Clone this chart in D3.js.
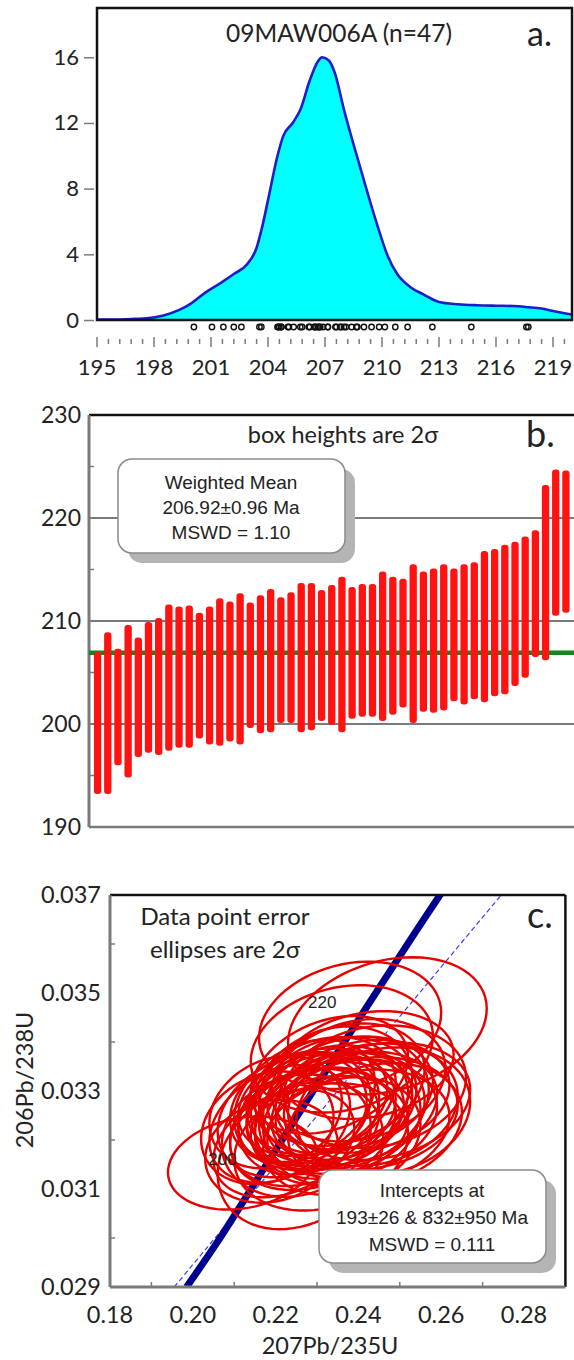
<!DOCTYPE html>
<html><head><meta charset="utf-8">
<script src="https://cdn.jsdelivr.net/npm/d3@7"></script>
<style>body{margin:0;background:#fff} svg{display:block}</style>
</head><body>
<svg id="chart" width="574" height="1360"></svg>
<script>
// ---------- Panel a: probability density ----------
const pdfTitle = "09MAW006A (n=47)";
const pdfAges = [195,196,197,197.6,198.5,199.3,199.9,200.7,201.5,202.2,202.9,203.4,203.7,204.0,204.5,204.8,205.3,205.7,206.2,206.6,206.85,207.2,207.5,208.0,208.5,209.0,209.35,209.8,210.3,210.8,211.5,212.2,213.0,214.0,215.0,216.0,216.9,217.7,218.4,219.2,220.0];
const pdfValues = [0.02,0.03,0.07,0.1,0.28,0.6,0.97,1.67,2.25,2.8,3.4,4.4,5.7,7.3,10.0,11.2,12.0,12.8,14.6,15.7,16.0,15.8,15.1,12.8,10.7,8.7,7.3,5.6,3.9,2.8,2.0,1.55,1.1,0.96,0.9,0.87,0.85,0.78,0.7,0.5,0.33];
const yTicksA = [0,4,8,12,16];
const xTicksA = [195,198,201,204,207,210,213,216,219];

// ---------- Panel b: weighted mean (2 sigma boxes) ----------
const boxLow  = [193.2,193.2,196.0,194.8,196.8,197.2,197.0,197.4,197.7,197.7,198.6,198.0,197.9,198.3,198.0,199.6,199.1,199.2,200.1,200.1,199.2,199.4,200.3,199.9,199.2,200.5,200.7,200.7,200.3,200.9,201.6,200.1,201.2,201.1,201.3,202.2,201.9,202.4,202.1,202.7,202.9,203.7,204.5,206.5,206.2,210.5,210.8];
const boxHigh = [207.0,208.9,207.3,209.6,208.4,209.9,210.3,211.6,211.4,211.5,210.8,211.4,212.2,211.9,212.7,211.8,212.5,213.1,212.3,212.8,213.7,213.7,213.0,213.5,214.3,213.3,213.6,213.6,214.8,214.3,214.1,215.5,214.8,215.1,215.5,215.1,215.5,215.7,216.8,217.0,217.4,217.7,218.2,218.8,223.2,224.7,224.6];
const weightedMean = 206.92;
const yTicksB = [190,200,210,220,230];
const gridB = [200,210,220];
const meanLines = ["Weighted Mean","206.92±0.96 Ma","MSWD = 1.10"];

// ---------- Panel c: concordia ----------
const ellX  = [0.212,0.226,0.219,0.231,0.222,0.236,0.225,0.229,0.240,0.218,0.233,0.227,0.244,0.221,0.235,0.230,0.238,0.224,0.232,0.242,0.228,0.236,0.220,0.234,0.246,0.231,0.239,0.226,0.243,0.233,0.229,0.237,0.245,0.227,0.235,0.241,0.231,0.238,0.234,0.244,0.236,0.240,0.233,0.242,0.236,0.247,0.238];
const ellY  = [0.03153,0.03168,0.03177,0.03186,0.03193,0.03208,0.03209,0.03223,0.03224,0.03225,0.03226,0.03226,0.03232,0.03233,0.03237,0.03242,0.03244,0.03249,0.0325,0.03254,0.03254,0.03256,0.03257,0.03258,0.03259,0.03261,0.03265,0.03265,0.03272,0.03273,0.03277,0.03276,0.03279,0.0328,0.03285,0.03289,0.0329,0.03296,0.03302,0.03309,0.03313,0.03322,0.03333,0.03353,0.03386,0.03433,0.03434];
const ellSX = [0.018,0.020,0.016,0.021,0.017,0.019,0.018,0.020,0.022,0.016,0.019,0.018,0.021,0.017,0.020,0.019,0.021,0.018,0.019,0.022,0.017,0.020,0.016,0.019,0.021,0.018,0.020,0.017,0.021,0.019,0.018,0.020,0.022,0.017,0.019,0.021,0.018,0.020,0.019,0.022,0.020,0.021,0.019,0.021,0.022,0.024,0.022];
const ellSY = [0.00095,0.0015,0.00105,0.0013,0.0011,0.0012,0.00125,0.00125,0.0012,0.00115,0.00105,0.0012,0.00125,0.0012,0.0013,0.00105,0.0012,0.00125,0.0011,0.00115,0.00125,0.00125,0.00115,0.0012,0.0013,0.00115,0.00115,0.00115,0.00125,0.0012,0.0011,0.00135,0.0012,0.00125,0.00125,0.00115,0.0012,0.00115,0.0013,0.00125,0.00125,0.00125,0.0012,0.0011,0.0013,0.0014,0.0013];
const ellRho = [0.2,0.25,0.15,0.2,0.3,0.2,0.15,0.25,0.2,0.2,0.15,0.25,0.2,0.3,0.2,0.15,0.2,0.25,0.2,0.15,0.25,0.2,0.2,0.3,0.15,0.2,0.25,0.2,0.15,0.2,0.25,0.2,0.2,0.3,0.15,0.2,0.25,0.2,0.2,0.15,0.25,0.2,0.3,0.2,0.2,0.25,0.2];
const concAges = [184.5,190,200,210,220,230,235];
const concX = [0.1985,0.2058,0.2178,0.2298,0.2419,0.2542,0.2605];
const concY = [0.0290,0.0299,0.0315,0.0331,0.0347,0.0363,0.0371];
const concLabels = [200,220];
const discX = [0.1955,0.2745];
const discY = [0.029,0.037];
const xTicksC = [0.18,0.20,0.22,0.24,0.26,0.28];
const yTicksC = [0.029,0.031,0.033,0.035,0.037];
const interceptLines = ["Intercepts at","193±26 & 832±950 Ma","MSWD = 0.111"];

// ---------- drawing ----------
const CAL = "Lato, 'Open Sans', sans-serif";
const ARI = "'Liberation Sans', Arial, sans-serif";
const svg = d3.select('#chart');
const GRAY = '#7a7a7a';

// ===== Panel a =====
const xA = d3.scaleLinear().domain([195, 220]).range([97, 572]);
const yA = d3.scaleLinear().domain([0, 19]).range([320, 8]);
const gA = svg.append('g');
const pdf = pdfAges.map((a, i) => ({a, v: pdfValues[i]}));
gA.append('path').datum(pdf)
  .attr('d', d3.area().x(d => xA(d.a)).y0(yA(0)).y1(d => yA(d.v)).curve(d3.curveMonotoneX))
  .attr('fill', '#00ffff');
gA.append('path').datum(pdf)
  .attr('d', d3.line().x(d => xA(d.a)).y(d => yA(d.v)).curve(d3.curveMonotoneX))
  .attr('fill', 'none').attr('stroke', '#1c1cc8').attr('stroke-width', 2.6);
gA.append('rect').attr('x', xA(195)).attr('y', yA(19)).attr('width', xA(220) - xA(195)).attr('height', yA(0) - yA(19))
  .attr('fill', 'none').attr('stroke', '#111').attr('stroke-width', 2.5);
gA.append('g').attr('transform', 'translate(94,0)')
  .call(d3.axisLeft(yA).tickValues(yTicksA).tickSize(10).tickPadding(5))
  .call(g => g.select('.domain').remove())
  .call(g => g.selectAll('line').attr('stroke', GRAY).attr('stroke-width', 1.5))
  .call(g => g.selectAll('text').attr('font-family', CAL).attr('font-size', 22).attr('fill', '#222'));
// data points
const ages = boxLow.map((l, i) => (l + boxHigh[i]) / 2);
gA.append('g').selectAll('circle').data(ages).join('circle')
  .attr('cx', d => xA(d)).attr('cy', 327).attr('r', 2.7)
  .attr('fill', 'none').attr('stroke', '#111').attr('stroke-width', 1.4);
// x ticks
const minorA = d3.range(195, 220.01, 0.6).filter(v => !xTicksA.some(t => Math.abs(t - v) < 0.01));
gA.append('g').selectAll('line.mj').data(xTicksA).join('line')
  .attr('x1', d => xA(d)).attr('x2', d => xA(d)).attr('y1', 337).attr('y2', 347)
  .attr('stroke', GRAY).attr('stroke-width', 1.5);
gA.append('g').selectAll('line.mn').data(minorA).join('line')
  .attr('x1', d => xA(d)).attr('x2', d => xA(d)).attr('y1', 339).attr('y2', 344)
  .attr('stroke', GRAY).attr('stroke-width', 1.5);
gA.append('g').selectAll('text').data(xTicksA).join('text')
  .attr('x', d => xA(d)).attr('y', 375).attr('text-anchor', 'middle')
  .attr('font-family', CAL).attr('font-size', 22).attr('fill', '#222').text(d => d);
gA.append('text').attr('x', 339).attr('y', 42).attr('text-anchor', 'middle')
  .attr('font-family', CAL).attr('font-size', 24.5).attr('fill', '#222').text(pdfTitle);
gA.append('text').attr('x', 527).attr('y', 46)
  .attr('font-family', CAL).attr('font-size', 34).attr('fill', '#222').text('a.');

// ===== Panel b =====
const xB = d3.scaleBand().domain(d3.range(boxLow.length)).range([92.5, 571]).paddingInner(0.28).paddingOuter(0.14);
const yB = d3.scaleLinear().domain([190, 230]).range([827, 415]);
const gB = svg.append('g');
gB.append('g').selectAll('line').data(gridB).join('line')
  .attr('x1', 89).attr('x2', 574).attr('y1', d => yB(d)).attr('y2', d => yB(d))
  .attr('stroke', GRAY).attr('stroke-width', 2);
gB.append('line').attr('x1', 89).attr('x2', 574).attr('y1', yB(230)).attr('y2', yB(230)).attr('stroke', '#111').attr('stroke-width', 2.5);
gB.append('line').attr('x1', 89).attr('x2', 574).attr('y1', yB(190)).attr('y2', yB(190)).attr('stroke', GRAY).attr('stroke-width', 2.5);
gB.append('line').attr('x1', 89).attr('x2', 89).attr('y1', yB(230)).attr('y2', yB(190)).attr('stroke', GRAY).attr('stroke-width', 3);
gB.append('g').selectAll('line').data([195,205,215,225]).join('line')
  .attr('x1', 89).attr('x2', 94).attr('y1', d => yB(d)).attr('y2', d => yB(d)).attr('stroke', GRAY).attr('stroke-width', 1.5);
gB.append('g').selectAll('text').data(yTicksB).join('text')
  .attr('x', 81).attr('y', d => yB(d)).attr('dy', '0.35em').attr('text-anchor', 'end')
  .attr('font-family', CAL).attr('font-size', 23).attr('fill', '#222').text(d => d);
// mean line
gB.append('line').attr('x1', 89).attr('x2', 574).attr('y1', yB(weightedMean)).attr('y2', yB(weightedMean))
  .attr('stroke', '#13881a').attr('stroke-width', 4.5);
// bars
const bars = boxLow.map((l, i) => ({i, l, h: boxHigh[i]}));
gB.append('g').selectAll('rect').data(bars).join('rect')
  .attr('x', d => xB(d.i)).attr('width', xB.bandwidth())
  .attr('y', d => yB(d.h)).attr('height', d => yB(d.l) - yB(d.h))
  .attr('rx', 3).attr('fill', '#ff1212');
// weighted mean box
gB.append('rect').attr('x', 128).attr('y', 469).attr('width', 227).attr('height', 94).attr('rx', 14).attr('fill', '#b4b4b4');
gB.append('rect').attr('x', 118).attr('y', 459).attr('width', 227).attr('height', 94).attr('rx', 14)
  .attr('fill', '#fff').attr('stroke', '#8a8a8a').attr('stroke-width', 1.5);
gB.append('g').selectAll('text').data(meanLines).join('text')
  .attr('x', 231).attr('y', (d, i) => 489 + i * 25).attr('text-anchor', 'middle')
  .attr('font-family', ARI).attr('font-size', 19).attr('fill', '#222').text(d => d);
gB.append('text').attr('x', 343).attr('y', 443).attr('text-anchor', 'middle')
  .attr('font-family', CAL).attr('font-size', 23.5).attr('fill', '#222').text('box heights are 2σ');
gB.append('text').attr('x', 526).attr('y', 447)
  .attr('font-family', CAL).attr('font-size', 36).attr('fill', '#222').text('b.');

// ===== Panel c =====
const xC = d3.scaleLinear().domain([0.18, 0.29]).range([110, 565.4]);
const yC = d3.scaleLinear().domain([0.029, 0.037]).range([1287, 895]);
const gC = svg.append('g');
svg.append('defs').append('clipPath').attr('id', 'clipC').append('rect')
  .attr('x', xC(0.18)).attr('y', yC(0.037)).attr('width', xC(0.29) - xC(0.18)).attr('height', yC(0.029) - yC(0.037));
const plotC = gC.append('g').attr('clip-path', 'url(#clipC)');
const disc = discX.map((x, i) => [x, discY[i]]);
plotC.append('path').datum(disc).attr('d', d3.line().x(d => xC(d[0])).y(d => yC(d[1])))
  .attr('fill', 'none').attr('stroke', '#3c3cff').attr('stroke-width', 1.2).attr('stroke-dasharray', '5,3');
const conc = concX.map((x, i) => [x, concY[i]]);
plotC.append('path').datum(conc).attr('d', d3.line().x(d => xC(d[0])).y(d => yC(d[1])).curve(d3.curveMonotoneX))
  .attr('fill', 'none').attr('stroke', '#00008f').attr('stroke-width', 7);
gC.append('g').selectAll('text').data(concLabels).join('text')
  .attr('x', d => xC(concX[concAges.indexOf(d)]) - 44).attr('y', d => yC(concY[concAges.indexOf(d)]))
  .attr('text-anchor', 'middle').attr('font-family', ARI).attr('font-size', 17).attr('fill', '#222').text(d => d);
// ellipses
const thetas = d3.range(0, 73).map(k => k * 2 * Math.PI / 72);
const ellipses = ellX.map((cx, i) => thetas.map(t => [
  cx + ellSX[i] * Math.cos(t),
  ellY[i] + ellSY[i] * (ellRho[i] * Math.cos(t) + Math.sqrt(1 - ellRho[i] * ellRho[i]) * Math.sin(t))
]));
plotC.append('g').selectAll('path').data(ellipses).join('path')
  .attr('d', d3.line().x(d => xC(d[0])).y(d => yC(d[1])).curve(d3.curveLinearClosed))
  .attr('fill', 'none').attr('stroke', '#e60000').attr('stroke-width', 2.4);
// frame
gC.append('line').attr('x1', 110).attr('x2', 565.4).attr('y1', yC(0.037)).attr('y2', yC(0.037)).attr('stroke', '#111').attr('stroke-width', 2.5);
gC.append('line').attr('x1', 565.4).attr('x2', 565.4).attr('y1', yC(0.037)).attr('y2', yC(0.029)).attr('stroke', '#111').attr('stroke-width', 2.5);
gC.append('line').attr('x1', 110).attr('x2', 565.4).attr('y1', yC(0.029)).attr('y2', yC(0.029)).attr('stroke', GRAY).attr('stroke-width', 3);
gC.append('line').attr('x1', 110).attr('x2', 110).attr('y1', yC(0.037)).attr('y2', yC(0.029)).attr('stroke', GRAY).attr('stroke-width', 3);
gC.append('g').selectAll('line').data([0.030,0.032,0.034,0.036]).join('line')
  .attr('x1', 110).attr('x2', 115).attr('y1', d => yC(d)).attr('y2', d => yC(d)).attr('stroke', GRAY).attr('stroke-width', 1.5);
gC.append('g').selectAll('line').data([0.19,0.21,0.23,0.25,0.27]).join('line')
  .attr('x1', d => xC(d)).attr('x2', d => xC(d)).attr('y1', yC(0.029)).attr('y2', yC(0.029) - 5).attr('stroke', GRAY).attr('stroke-width', 1.5);
gC.append('g').selectAll('text').data(yTicksC).join('text')
  .attr('x', 101).attr('y', d => yC(d)).attr('dy', '0.35em').attr('text-anchor', 'end')
  .attr('font-family', CAL).attr('font-size', 23.5).attr('fill', '#222').text(d => d3.format('.3f')(d));
gC.append('g').selectAll('text').data(xTicksC).join('text')
  .attr('x', d => xC(d)).attr('y', 1323).attr('text-anchor', 'middle')
  .attr('font-family', CAL).attr('font-size', 23.5).attr('fill', '#222').text(d => d3.format('.2f')(d));
gC.append('text').attr('x', 330).attr('y', 1354).attr('text-anchor', 'middle')
  .attr('font-family', CAL).attr('font-size', 23.5).attr('fill', '#222').text('207Pb/235U');
gC.append('text').attr('transform', 'translate(33,1080) rotate(-90)').attr('text-anchor', 'middle')
  .attr('font-family', CAL).attr('font-size', 23.5).attr('fill', '#222').text('206Pb/238U');
gC.append('text').attr('x', 225).attr('y', 925).attr('text-anchor', 'middle')
  .attr('font-family', CAL).attr('font-size', 24).attr('fill', '#222').text('Data point error');
gC.append('text').attr('x', 225).attr('y', 958).attr('text-anchor', 'middle')
  .attr('font-family', CAL).attr('font-size', 24).attr('fill', '#222').text('ellipses are 2σ');
gC.append('text').attr('x', 527).attr('y', 928)
  .attr('font-family', CAL).attr('font-size', 36).attr('fill', '#222').text('c.');
// intercept box
gC.append('rect').attr('x', 329).attr('y', 1180).attr('width', 227).attr('height', 93).attr('rx', 14).attr('fill', '#b4b4b4');
gC.append('rect').attr('x', 319).attr('y', 1170).attr('width', 227).attr('height', 93).attr('rx', 14)
  .attr('fill', '#fff').attr('stroke', '#8a8a8a').attr('stroke-width', 1.5);
gC.append('g').selectAll('text').data(interceptLines).join('text')
  .attr('x', 432).attr('y', (d, i) => 1197 + i * 27).attr('text-anchor', 'middle')
  .attr('font-family', ARI).attr('font-size', 19).attr('fill', '#222').text(d => d);
</script>
</body></html>
